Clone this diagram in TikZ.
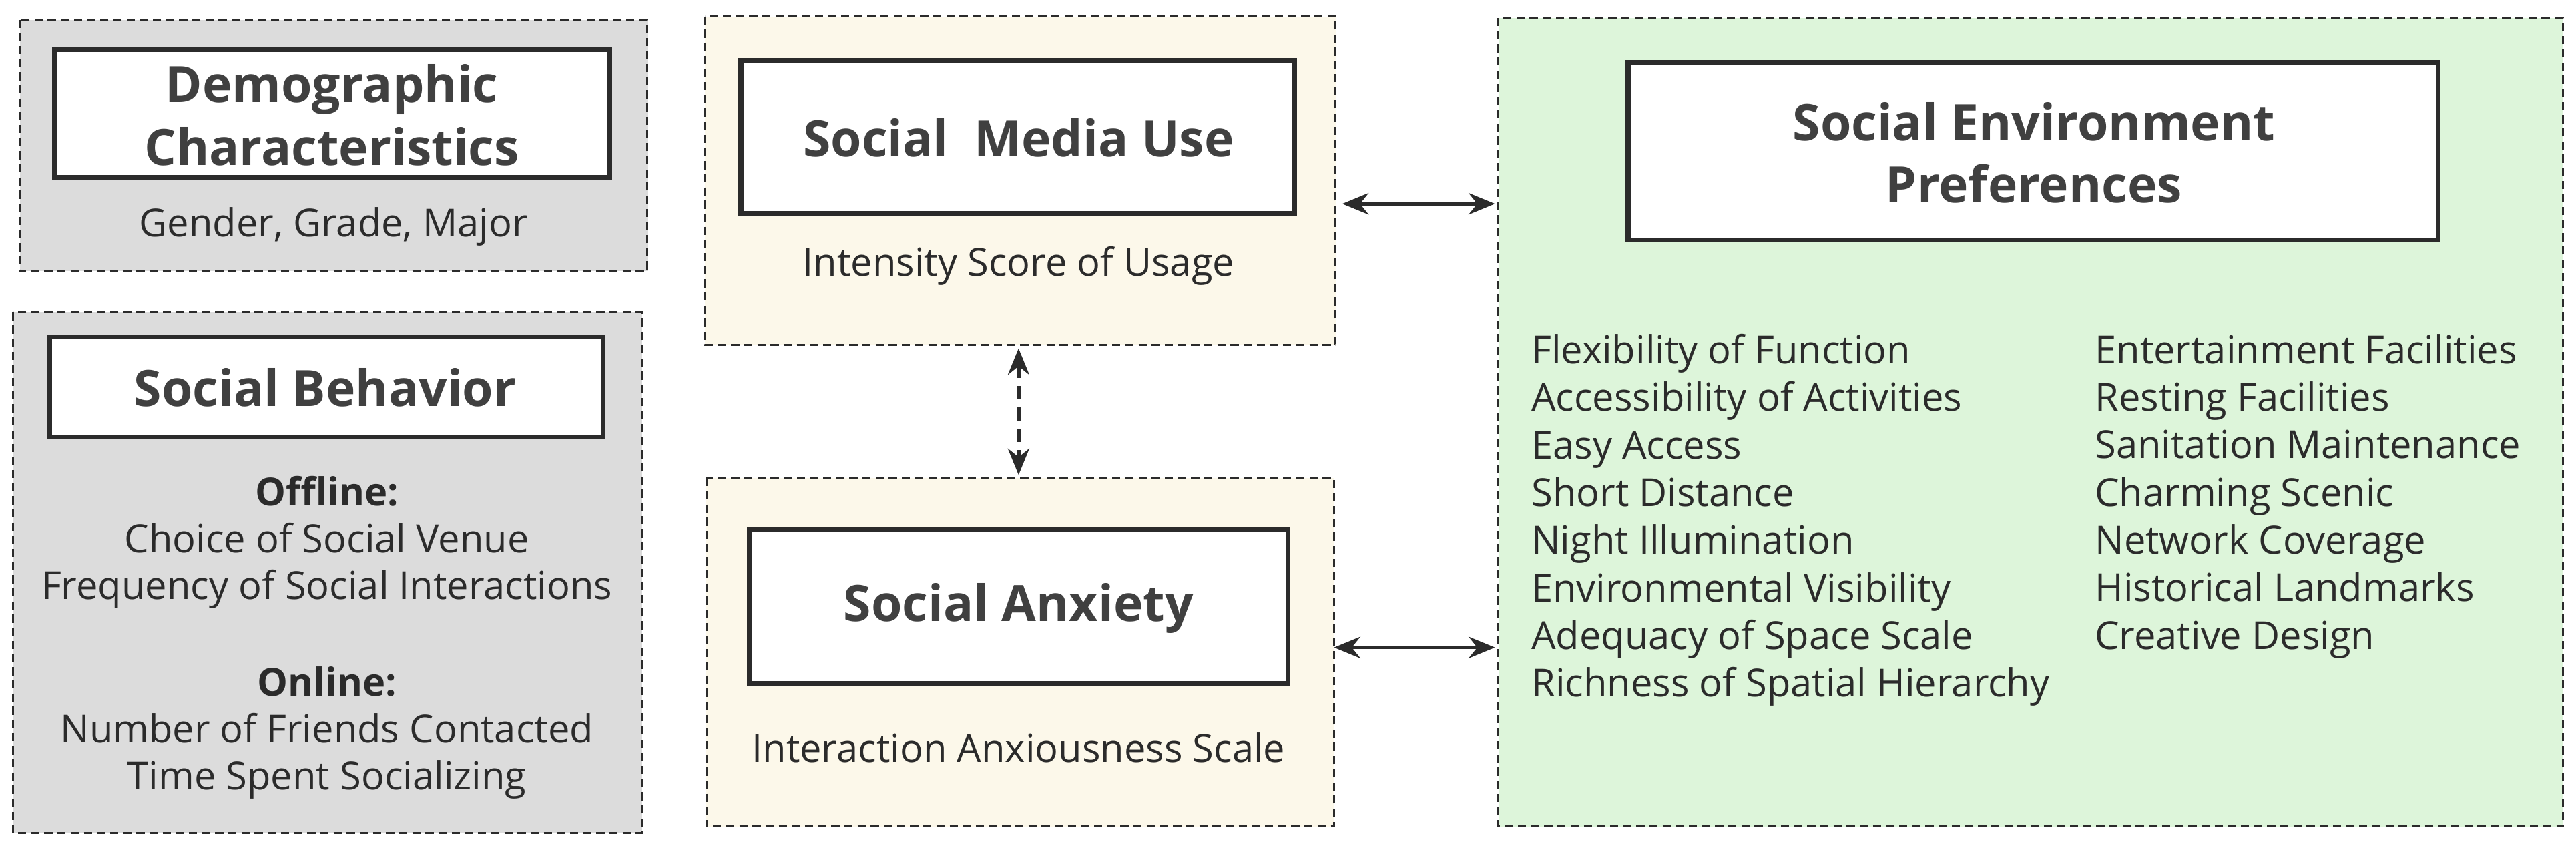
\documentclass[tikz,border=0pt]{standalone}
\usepackage{fontspec}
\setmainfont{Open Sans}
\usetikzlibrary{arrows.meta}
\definecolor{gbg}{HTML}{DCDCDC}
\definecolor{ybg}{HTML}{FCF8EA}
\definecolor{grbg}{HTML}{DDF5DA}
\definecolor{ink}{HTML}{2B2B2B}
\begin{document}
\begin{tikzpicture}[x=1pt,y=-1pt,
  outer/.style={draw=ink,dashed,line width=1.2pt,dash pattern=on 5pt off 3pt},
  inner/.style={draw=ink,fill=white,line width=3pt},
  title/.style={font=\fontsize{30.5}{38}\selectfont\bfseries,text=ink!90,align=center},
  body/.style={font=\fontsize{23.5}{28.5}\selectfont,text=ink,align=center},
  list/.style={font=\fontsize{23.5}{29}\selectfont,text=ink,align=left,anchor=north west,inner sep=0pt},
  arr/.style={{Stealth[length=16pt,width=13pt]}-{Stealth[length=16pt,width=13pt]},line width=2.2pt,draw=ink}]
\useasboundingbox (0,0) rectangle (1568,517);
% demographic
\draw[outer,fill=gbg] (12,12) rectangle (394,165);
\draw[inner] (33,30) rectangle (371,108);
\node[title] (dc) at (202,70) {Demographic\\Characteristics};
\node[body] (dcs) at (203,138) {Gender, Grade, Major};
% social behavior
\draw[outer,fill=gbg] (8,190) rectangle (391,507);
\draw[inner] (30,205) rectangle (367,266);
\node[title] (sb) at (198,236) {Social Behavior};
\node[body] (sbo) at (199,330) {\textbf{Offline:}\\Choice of Social Venue\\Frequency of Social Interactions};
\node[body] (sbn) at (199,446) {\textbf{Online:}\\Number of Friends Contacted\\Time Spent Socializing};
% social media use
\draw[outer,fill=ybg] (429,10) rectangle (813,210);
\draw[inner] (451,37) rectangle (788,130);
\node[title] (smu) at (620,84) {Social\ \ Media Use};
\node[body] (smus) at (620,162) {Intensity Score of Usage};
% social anxiety
\draw[outer,fill=ybg] (430,291) rectangle (812,503);
\draw[inner] (456,322) rectangle (784,416);
\node[title] (sa) at (620,370) {Social Anxiety};
\node[body] (sas) at (620,455) {Interaction Anxiousness Scale};
% env
\draw[outer,fill=grbg] (912,11) rectangle (1560,503);
\draw[inner] (991,38) rectangle (1484,146);
\node[title] (sep) at (1238,93) {Social Environment\\Preferences};
\node[list] (l1) at (932,203) {Flexibility of Function\\Accessibility of Activities\\Easy Access\\Short Distance\\Night Illumination\\Environmental Visibility\\Adequacy of Space Scale\\Richness of Spatial Hierarchy};
\node[list] (l2) at (1275,203) {Entertainment Facilities\\Resting Facilities\\Sanitation Maintenance\\Charming Scenic\\Network Coverage\\Historical Landmarks\\Creative Design};
% arrows
\coordinate (a1) at (817,124); \coordinate (b1) at (910,124);
\coordinate (a2) at (812,394); \coordinate (b2) at (910,394);
\coordinate (a3) at (620,212); \coordinate (b3) at (620,289);
\draw[arr] (a1) -- (b1);
\draw[arr] (a2) -- (b2);
\draw[arr,dash pattern=on 8pt off 5pt] (a3) -- (b3);
\end{tikzpicture}
\end{document}
